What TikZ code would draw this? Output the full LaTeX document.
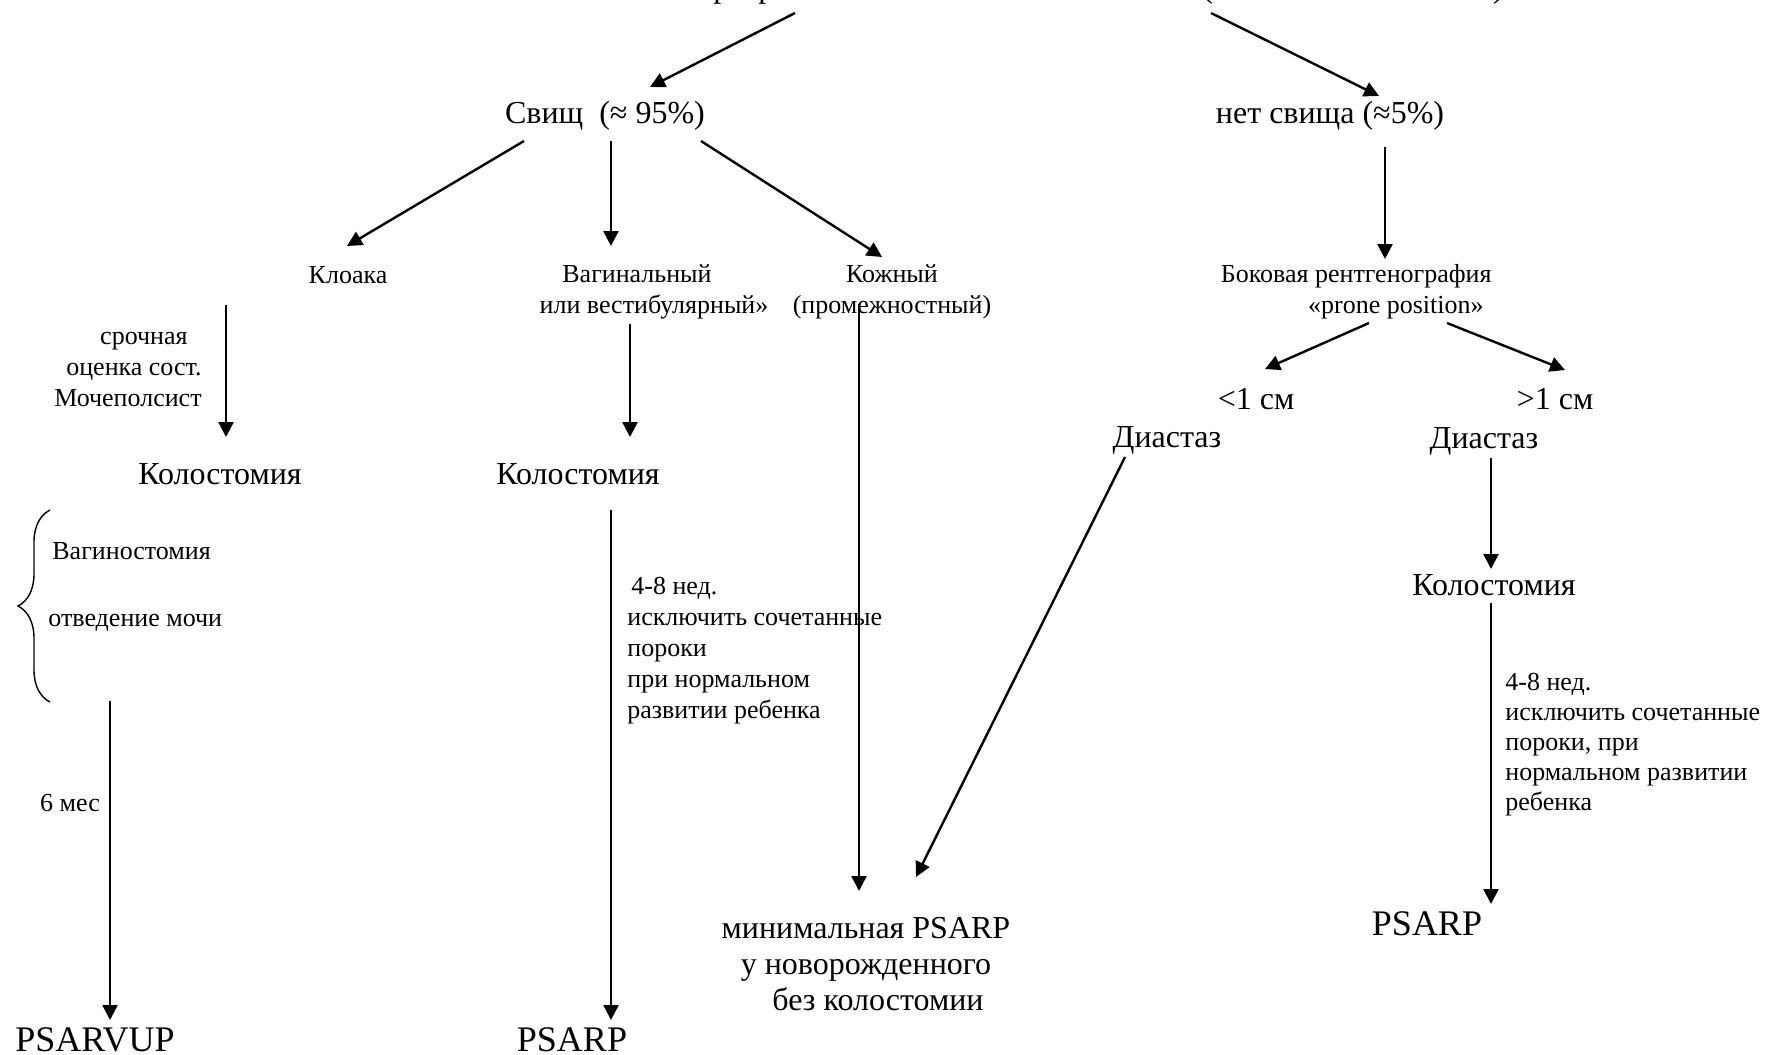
\documentclass[tikz,border=0pt]{standalone}
\usepackage{fontspec}
\setmainfont{Liberation Serif}
\usepackage{tikz}
\usetikzlibrary{arrows.meta,calc,decorations.pathreplacing}

\begin{document}
\begin{tikzpicture}[x=0.5pt, y=-0.5pt,
    every node/.style={inner sep=0pt},
    small/.style={font=\fontsize{13}{15.5}\selectfont},
    mid/.style={font=\fontsize{16}{18}\selectfont},
    big/.style={font=\fontsize{18}{21}\selectfont},
    arr/.style={draw, line width=1.2pt, -{Triangle[length=7.5pt,width=7.5pt]}}
    ]
    \useasboundingbox (0,0) rectangle (1768,1055);

    % Title (cut off at the top)
    \node[mid, anchor=base west] (ttl) at (713,-3) {р\hspace*{14.5pt}р};
    \node[mid, anchor=base west] (ttlp) at (1202,-3) {(\hspace*{140pt})};
    \coordinate (tl) at (795,13);
    \coordinate (tr) at (1211,13);

    % First level
    \node[mid, anchor=base] (svisch) at (605,123) {Свищ~~(≈ 95\%)};
    \node[mid, anchor=base] (nosvisch) at (1330,123) {нет свища (≈5\%)};

    % Left branch
    \node[small, anchor=base] (kloaka) at (348,283) {Клоака};
    \node[small, align=center] (vagin) at (654,292) {Вагинальный\hspace*{17pt}\\или вестибулярный»};
    \node[small, align=center] (kozhny) at (892,292) {Кожный\\(промежностный)};
    \node[small, align=right, anchor=east] (urgent) at (202,369)
        {срочная\hspace*{7pt}\\оценка сост.\hspace*{7pt}\\Мочеполсист};
    \node[mid, anchor=base] (kolo1) at (220,484) {Колостомия};
    \node[mid, anchor=base] (kolo2) at (578,484) {Колостомия};
    \node[small, anchor=base west] (vagst) at (52,559) {Вагиностомия};
    \node[small, anchor=base west] (otved) at (48,626) {отведение мочи};
    \node[small, anchor=base] (mes) at (70,811) {6 мес};
    \node[small, align=left, anchor=west] (note1) at (627,651)
        {\hspace*{2pt}4-8 нед.\\исключить сочетанные\\пороки\\при нормальном\\развитии ребенка};
    \node[big, anchor=base] (psarvup) at (95,1051) {PSARVUP};
    \node[big, anchor=base] (psarp1) at (572,1051) {PSARP};
    \node[mid, align=center] (minpsarp) at (866,964)
        {минимальная PSARP\\у новорожденного\\\hspace*{12pt}без колостомии};

    % Right branch
    \node[small, align=right, anchor=east] (bokovaya) at (1492,292)
        {Боковая рентгенография\\«prone position»\hspace*{4pt}};
    \node[mid, anchor=base] (lt1) at (1256,409) {<1 см};
    \node[mid, anchor=base] (gt1) at (1555,409) {>1 см};
    \node[mid, anchor=base] (diast1) at (1167,447) {Диастаз};
    \node[mid, anchor=base] (diast2) at (1484,448) {Диастаз};
    \node[mid, anchor=base] (kolo3) at (1494,595) {Колостомия};
    \node[small, align=left, anchor=west, font=\fontsize{13}{15}\selectfont] (note2) at (1505,745)
        {4-8 нед.\\исключить сочетанные\\пороки, при\\нормальном развитии\\ребенка};
    \node[big, anchor=base] (psarp3) at (1427,935) {PSARP};

    % Arrows
    \draw[arr] (tl) -- ($(svisch.base)+(45,-36)$);
    \draw[arr] (tr) -- ($(nosvisch.base)+(49,-27)$);
    \draw[arr] ($(svisch.base)+(-81,18)$) -- ($(kloaka.base)+(-1,-37)$);
    \draw[arr] ($(svisch.base)+(6,18)$) -- ($(vagin)+(-43,-46)$);
    \draw[arr] ($(svisch.base)+(96,18)$) -- ($(kozhny)+(-10,-35)$);
    \draw[arr] ($(nosvisch.base)+(55,24)$) -- ($(bokovaya.east)+(-107,-33)$);
    \draw[arr] ($(bokovaya.east)+(-123,31)$) -- ($(lt1.base)+(9,-40)$);
    \draw[arr] ($(bokovaya.east)+(-45,31)$) -- ($(gt1.base)+(10,-39)$);
    \draw[arr] ($(kloaka.base)+(-122,22)$) -- ($(kolo1.base)+(6,-47)$);
    \draw[arr] ($(vagin)+(-24,32)$) -- ($(kolo2.base)+(52,-47)$);
    \draw[arr] ($(kozhny)+(-33,12)$) -- ($(minpsarp)+(-7,-73)$);
    \draw[arr] ($(diast1.base)+(-42,10)$) -- ($(minpsarp)+(50,-87)$);
    \draw[arr] ($(diast2.base)+(7,10)$) -- ($(kolo3.base)+(-3,-26)$);
    \draw[arr] ($(kolo3.base)+(-3,8)$) -- ($(psarp3.base)+(64,-31)$);
    \draw[arr] ($(otved.base west)+(62,75)$) -- ($(psarvup.base)+(15,-31)$);
    \draw[arr] ($(kolo2.base)+(33,26)$) -- ($(psarp1.base)+(39,-31)$);

    % Brace
    \draw[line width=0.7pt, decorate, decoration={brace, amplitude=16pt}]
        ($(otved.base west)+(2,76)$) -- ($(vagst.base west)+(-2,-49)$);
\end{tikzpicture}
\end{document}
